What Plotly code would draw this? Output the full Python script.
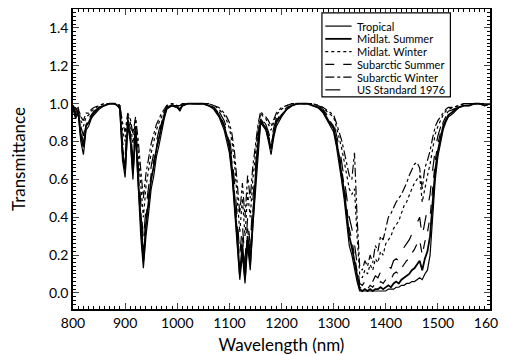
import plotly.graph_objects as go

wavelength = (
    [800, 805, 810, 815, 820, 825, 830, 835, 840]
    + [850, 860, 870, 880]
    + [885, 890, 895, 900, 905, 910, 915, 920, 925, 930, 935, 940, 945, 950, 955, 960, 965, 970, 975, 980]
    + [990, 1000, 1005, 1010, 1020, 1030, 1040, 1050, 1060, 1070, 1080]
    + [1090, 1095, 1100, 1105, 1110, 1115, 1120, 1125, 1130, 1135, 1140, 1145, 1150, 1155, 1160, 1165, 1170, 1175, 1180, 1185, 1190]
    + [1200, 1210, 1220, 1230, 1240, 1250, 1260, 1270, 1280, 1290]
    + list(range(1300, 1521, 5))
    + [1530, 1540, 1550, 1560, 1570, 1580, 1590, 1600]
)

tropical = (
    [0.98, 0.92, 0.95, 0.80, 0.73, 0.86, 0.88, 0.92, 0.94]
    + [0.97, 0.99, 1.0, 1.0]
    + [0.99, 0.97, 0.70, 0.61, 0.88, 0.80, 0.60, 0.85, 0.55, 0.30, 0.13, 0.30, 0.42, 0.55, 0.62, 0.72, 0.78, 0.86, 0.92, 0.97]
    + [0.99, 0.98, 0.96, 0.99, 1.0, 1.0, 1.0, 1.0, 0.99, 0.97, 0.93]
    + [0.86, 0.80, 0.74, 0.62, 0.45, 0.25, 0.07, 0.20, 0.05, 0.25, 0.12, 0.35, 0.55, 0.75, 0.90, 0.88, 0.86, 0.80, 0.73, 0.82, 0.88]
    + [0.93, 0.97, 0.99, 1.0, 1.0, 1.0, 0.99, 0.98, 0.95, 0.90]
    + [0.85, 0.78, 0.70, 0.60, 0.50, 0.38, 0.25, 0.20, 0.12, 0.06,
       0.01, 0.01, 0.01, 0.01, 0.01, 0.01, 0.01, 0.01, 0.01, 0.01,
       0.01, 0.02, 0.02, 0.02, 0.03, 0.03, 0.04, 0.04, 0.05, 0.05,
       0.06, 0.06, 0.07, 0.08, 0.07, 0.10, 0.12, 0.20, 0.40, 0.60,
       0.72, 0.80, 0.86, 0.90, 0.93]
    + [0.95, 0.98, 0.99, 0.99, 1.0, 1.0, 0.99, 1.0]
)

midlat_summer = (
    [0.98, 0.93, 0.96, 0.83, 0.77, 0.88, 0.90, 0.93, 0.95]
    + [0.98, 0.99, 1.0, 1.0]
    + [0.99, 0.98, 0.74, 0.65, 0.90, 0.83, 0.64, 0.87, 0.60, 0.35, 0.17, 0.36, 0.48, 0.60, 0.67, 0.76, 0.82, 0.89, 0.94, 0.98]
    + [0.99, 0.98, 0.97, 0.99, 1.0, 1.0, 1.0, 1.0, 0.99, 0.98, 0.94]
    + [0.88, 0.83, 0.77, 0.66, 0.50, 0.30, 0.10, 0.25, 0.08, 0.30, 0.16, 0.40, 0.60, 0.79, 0.91, 0.89, 0.87, 0.82, 0.76, 0.84, 0.90]
    + [0.94, 0.97, 0.99, 1.0, 1.0, 1.0, 0.99, 0.98, 0.96, 0.91]
    + [0.87, 0.80, 0.73, 0.63, 0.54, 0.42, 0.30, 0.24, 0.16, 0.08,
       0.02, 0.01, 0.02, 0.01, 0.02, 0.01, 0.02, 0.02, 0.03, 0.02,
       0.03, 0.04, 0.03, 0.05, 0.06, 0.05, 0.07, 0.08, 0.09, 0.10,
       0.12, 0.13, 0.15, 0.17, 0.12, 0.18, 0.22, 0.30, 0.48, 0.65,
       0.75, 0.82, 0.88, 0.91, 0.94]
    + [0.96, 0.98, 0.99, 0.99, 1.0, 1.0, 0.99, 1.0]
)

midlat_winter = (
    [0.99, 0.96, 0.98, 0.91, 0.88, 0.93, 0.94, 0.96, 0.97]
    + [0.99, 1.0, 1.0, 1.0]
    + [1.0, 0.99, 0.86, 0.80, 0.94, 0.90, 0.79, 0.92, 0.76, 0.58, 0.40, 0.56, 0.66, 0.74, 0.80, 0.86, 0.90, 0.93, 0.96, 0.99]
    + [1.0, 0.99, 0.98, 1.0, 1.0, 1.0, 1.0, 1.0, 1.0, 0.99, 0.97]
    + [0.94, 0.91, 0.87, 0.80, 0.68, 0.52, 0.32, 0.50, 0.30, 0.53, 0.40, 0.60, 0.74, 0.87, 0.95, 0.93, 0.92, 0.89, 0.86, 0.90, 0.94]
    + [0.97, 0.99, 1.0, 1.0, 1.0, 1.0, 1.0, 0.99, 0.98, 0.95]
    + [0.93, 0.88, 0.83, 0.77, 0.70, 0.63, 0.55, 0.52, 0.55, 0.30,
       0.10, 0.08, 0.12, 0.10, 0.15, 0.12, 0.18, 0.16, 0.22, 0.20,
       0.26, 0.28, 0.30, 0.34, 0.36, 0.38, 0.42, 0.46, 0.48, 0.52,
       0.55, 0.58, 0.60, 0.62, 0.48, 0.56, 0.62, 0.68, 0.76, 0.84,
       0.88, 0.91, 0.94, 0.96, 0.97]
    + [0.98, 0.99, 1.0, 1.0, 1.0, 1.0, 1.0, 1.0]
)

subarctic_summer = (
    [0.98, 0.94, 0.96, 0.85, 0.80, 0.89, 0.91, 0.93, 0.95]
    + [0.98, 0.99, 1.0, 1.0]
    + [0.99, 0.98, 0.77, 0.68, 0.91, 0.85, 0.67, 0.88, 0.64, 0.40, 0.22, 0.40, 0.52, 0.63, 0.70, 0.78, 0.84, 0.90, 0.95, 0.98]
    + [0.99, 0.99, 0.97, 0.99, 1.0, 1.0, 1.0, 1.0, 0.99, 0.98, 0.95]
    + [0.89, 0.85, 0.79, 0.69, 0.54, 0.35, 0.14, 0.30, 0.12, 0.34, 0.20, 0.44, 0.63, 0.81, 0.92, 0.90, 0.88, 0.83, 0.78, 0.85, 0.91]
    + [0.95, 0.98, 0.99, 1.0, 1.0, 1.0, 0.99, 0.98, 0.96, 0.92]
    + [0.88, 0.82, 0.75, 0.66, 0.57, 0.46, 0.34, 0.28, 0.20, 0.10,
       0.03, 0.02, 0.03, 0.02, 0.04, 0.03, 0.05, 0.04, 0.06, 0.05,
       0.07, 0.08, 0.07, 0.10, 0.11, 0.10, 0.13, 0.15, 0.17, 0.18,
       0.21, 0.23, 0.26, 0.28, 0.20, 0.27, 0.32, 0.40, 0.55, 0.70,
       0.79, 0.85, 0.90, 0.93, 0.95]
    + [0.97, 0.98, 0.99, 1.0, 1.0, 1.0, 0.99, 1.0]
)

subarctic_winter = (
    [0.99, 0.97, 0.98, 0.93, 0.91, 0.95, 0.95, 0.97, 0.98]
    + [0.99, 1.0, 1.0, 1.0]
    + [1.0, 0.99, 0.90, 0.85, 0.95, 0.92, 0.84, 0.93, 0.81, 0.65, 0.50, 0.63, 0.72, 0.79, 0.84, 0.89, 0.92, 0.95, 0.97, 0.99]
    + [1.0, 0.99, 0.99, 1.0, 1.0, 1.0, 1.0, 1.0, 1.0, 0.99, 0.98]
    + [0.95, 0.93, 0.90, 0.84, 0.74, 0.60, 0.42, 0.58, 0.40, 0.62, 0.50, 0.67, 0.79, 0.89, 0.96, 0.94, 0.93, 0.91, 0.88, 0.92, 0.95]
    + [0.98, 0.99, 1.0, 1.0, 1.0, 1.0, 1.0, 0.99, 0.98, 0.96]
    + [0.94, 0.90, 0.86, 0.81, 0.75, 0.69, 0.62, 0.60, 0.74, 0.40,
       0.14, 0.12, 0.17, 0.14, 0.20, 0.16, 0.25, 0.22, 0.30, 0.28,
       0.35, 0.40, 0.42, 0.45, 0.48, 0.50, 0.52, 0.55, 0.58, 0.62,
       0.65, 0.68, 0.69, 0.66, 0.55, 0.66, 0.70, 0.75, 0.82, 0.88,
       0.91, 0.93, 0.95, 0.97, 0.98]
    + [0.98, 0.99, 1.0, 1.0, 1.0, 1.0, 1.0, 1.0]
)

us_standard = (
    [0.99, 0.95, 0.97, 0.88, 0.83, 0.91, 0.92, 0.94, 0.96]
    + [0.98, 1.0, 1.0, 1.0]
    + [0.99, 0.98, 0.80, 0.72, 0.92, 0.87, 0.71, 0.90, 0.68, 0.46, 0.28, 0.45, 0.57, 0.67, 0.74, 0.81, 0.86, 0.91, 0.95, 0.98]
    + [0.99, 0.99, 0.98, 0.99, 1.0, 1.0, 1.0, 1.0, 0.99, 0.98, 0.96]
    + [0.91, 0.87, 0.82, 0.72, 0.58, 0.40, 0.20, 0.36, 0.17, 0.40, 0.25, 0.49, 0.67, 0.83, 0.93, 0.91, 0.89, 0.85, 0.80, 0.87, 0.92]
    + [0.95, 0.98, 0.99, 1.0, 1.0, 1.0, 1.0, 0.99, 0.97, 0.93]
    + [0.90, 0.84, 0.78, 0.70, 0.61, 0.51, 0.40, 0.34, 0.26, 0.14,
       0.05, 0.04, 0.06, 0.05, 0.08, 0.06, 0.09, 0.08, 0.11, 0.10,
       0.13, 0.14, 0.13, 0.17, 0.18, 0.17, 0.21, 0.24, 0.26, 0.28,
       0.31, 0.34, 0.37, 0.40, 0.30, 0.38, 0.45, 0.52, 0.65, 0.76,
       0.83, 0.88, 0.92, 0.94, 0.96]
    + [0.97, 0.98, 0.99, 1.0, 1.0, 1.0, 1.0, 1.0]
)

series = [
    ("Tropical", tropical, "solid", 1.2),
    ("Midlat. Summer", midlat_summer, "solid", 1.8),
    ("Midlat. Winter", midlat_winter, "dot", 1.2),
    ("Subarctic Summer", subarctic_summer, "dash", 1.2),
    ("Subarctic Winter", subarctic_winter, "dashdot", 1.2),
    ("US Standard 1976", us_standard, "longdash", 1.2),
]

font_family = "Lato, 'DejaVu Sans', sans-serif"

fig = go.Figure()
for name, vals, dash, w in series:
    assert len(vals) == len(wavelength), (name, len(vals), len(wavelength))
    fig.add_trace(go.Scatter(x=wavelength, y=vals, mode="lines", name=name, showlegend=False,
                             line=dict(color="black", width=w, dash=dash)))

# compact boxed legend (paper coordinates)
leg_x0, leg_x1, leg_top, leg_bottom = 0.597, 0.905, 0.987, 0.707
row0, row_step = 0.943, 0.0425
sample_x0, sample_x1, text_x = 0.605, 0.668, 0.676
shapes = [dict(type="rect", xref="paper", yref="paper", x0=leg_x0, x1=leg_x1,
               y0=leg_bottom, y1=leg_top, line=dict(color="black", width=1.2),
               fillcolor="white", layer="above")]
annotations = []
for i, (name, vals, dash, w) in enumerate(series):
    yy = row0 - i * row_step
    shapes.append(dict(type="line", xref="paper", yref="paper", x0=sample_x0, x1=sample_x1,
                       y0=yy, y1=yy, line=dict(color="black", width=w, dash=dash), layer="above"))
    annotations.append(dict(xref="paper", yref="paper", x=text_x, y=yy, text=name,
                            showarrow=False, xanchor="left", yanchor="middle",
                            font=dict(size=11, family=font_family, color="black")))

# page body has an 8px margin, so the figure is shrunk by 8px in each direction
fig.update_layout(
    width=498, height=347,
    margin=dict(l=65, r=16, t=1, b=46),
    paper_bgcolor="white", plot_bgcolor="white",
    font=dict(family=font_family, color="black", size=14),
    showlegend=False,
    shapes=shapes,
    annotations=annotations,
    xaxis=dict(range=[800, 1600], dtick=100, tick0=800, ticks="inside", ticklen=6,
               tickwidth=1, mirror="ticks", showline=True, linecolor="black", linewidth=1.5,
               showgrid=False, zeroline=False, ticklabeloverflow="allow",
               minor=dict(dtick=10, ticks="inside", ticklen=3, tickcolor="black", showgrid=False),
               title=dict(text="Wavelength (nm)", font=dict(size=17), standoff=12),
               tickfont=dict(size=14), automargin=False),
    yaxis=dict(range=[-0.085, 1.5], dtick=0.2, tick0=0, ticks="inside", ticklen=6,
               tickwidth=1, mirror="ticks", showline=True, linecolor="black", linewidth=1.5,
               showgrid=False, zeroline=False, tickformat=".1f",
               minor=dict(dtick=0.02, ticks="inside", ticklen=3, tickcolor="black", showgrid=False),
               title=dict(text="Transmittance", font=dict(size=17), standoff=19),
               tickfont=dict(size=14), automargin=False),
)

fig.write_html("out.html")
